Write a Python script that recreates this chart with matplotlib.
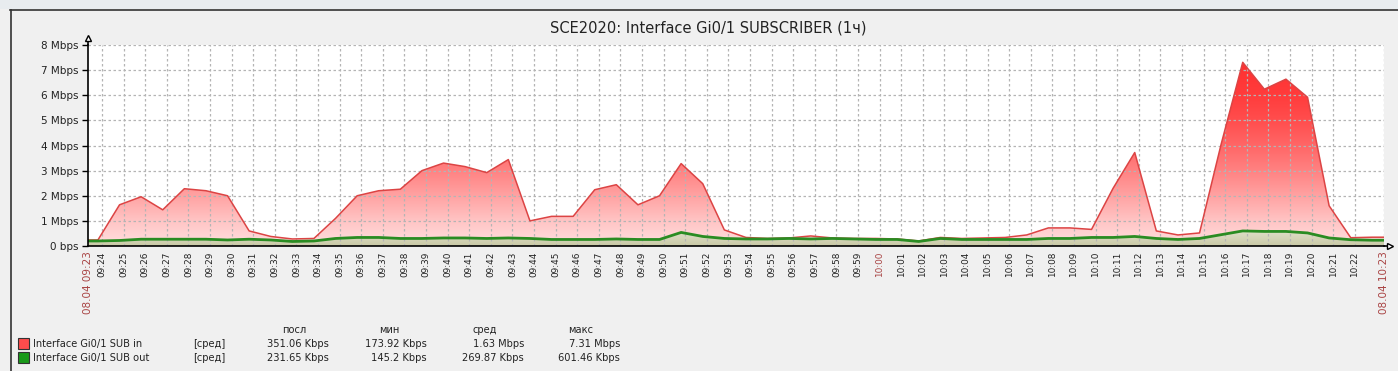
import numpy as np
import matplotlib
matplotlib.use("Agg")
import matplotlib.pyplot as plt
from matplotlib.colors import LinearSegmentedColormap
from matplotlib.patches import Polygon, Rectangle
from matplotlib.lines import Line2D

W, H = 1398, 371

# one sample per minute, first at 09:23:49, window 09:23:21 .. 10:23:21
start_label = "08.04 09:23"
end_label = "08.04 10:23"
first_sample = 0.46      # minutes after window start
window = 60

# Mbps
sub_in = [0.24, 1.64, 1.96, 1.44, 2.28, 2.2, 2.0, 0.6, 0.38, 0.28,
          0.3, 1.1, 2.0, 2.2, 2.26, 3.0, 3.3, 3.16, 2.92, 3.44,
          1.0, 1.18, 1.18, 2.24, 2.44, 1.64, 2.0, 3.28, 2.48, 0.64,
          0.34, 0.3, 0.32, 0.4, 0.32, 0.3, 0.3, 0.28, 0.2, 0.34,
          0.3, 0.32, 0.34, 0.44, 0.72, 0.72, 0.66, 2.3, 3.72, 0.6,
          0.44, 0.52, 4.05, 7.31, 6.24, 6.64, 5.92, 1.6, 0.33, 0.35]
sub_out = [0.2, 0.22, 0.27, 0.27, 0.27, 0.27, 0.24, 0.27, 0.24, 0.18,
           0.2, 0.3, 0.34, 0.34, 0.3, 0.3, 0.32, 0.32, 0.3, 0.32,
           0.3, 0.26, 0.26, 0.26, 0.28, 0.26, 0.26, 0.54, 0.38, 0.3,
           0.28, 0.28, 0.3, 0.28, 0.3, 0.28, 0.26, 0.26, 0.18, 0.3,
           0.26, 0.26, 0.26, 0.26, 0.3, 0.3, 0.34, 0.34, 0.38, 0.3,
           0.26, 0.3, 0.45, 0.6, 0.58, 0.58, 0.52, 0.32, 0.25, 0.23]

minute_labels = ["09:%02d" % m for m in range(24, 60)] + ["10:%02d" % m for m in range(0, 23)]
first_minute = 0.65      # 09:24 after window start

y_labels = ["0 bps"] + ["%d Mbps" % i for i in range(1, 9)]

legend_names = ["Interface Gi0/1 SUB in", "Interface Gi0/1 SUB out"]
legend_cols = ["посл", "мин", "сред", "макс"]
legend_vals = [["351.06 Kbps", "173.92 Kbps", "1.63 Mbps", "7.31 Mbps"],
               ["231.65 Kbps", "145.2 Kbps", "269.87 Kbps", "601.46 Kbps"]]

title = "SCE2020: Interface Gi0/1 SUBSCRIBER (1ч)"

RED_TXT = "#a94444"
GRID = "#b4b4b4"

fig = plt.figure(figsize=(W / 100, H / 100), dpi=100, facecolor="#f0f0f0")

# frame around the graph
fig.patches.append(Rectangle((0, (H - 9) / H), 1, 9 / H, transform=fig.transFigure,
                             facecolor="#e8ecef", edgecolor="none"))
fig.lines.append(Line2D([10 / W, 1], [(H - 9.5) / H] * 2, transform=fig.transFigure,
                        color="#333333", lw=1.2))
fig.lines.append(Line2D([10.5 / W] * 2, [0, (H - 9.5) / H], transform=fig.transFigure,
                        color="#333333", lw=1.2))

ax = fig.add_axes([88 / W, (H - 246) / H, (1384 - 88) / W, (246 - 45) / H])
ax.set_facecolor("white")

t = first_sample + np.arange(len(sub_in))
tx = np.concatenate([[0], t, [window]])
yin = np.concatenate([[sub_in[0]], sub_in, [sub_in[-1]]])
yout = np.concatenate([[sub_out[0]], sub_out, [sub_out[-1]]])

# gradient fills
red_cmap = LinearSegmentedColormap.from_list(
    "r", ["#ffe0e0", "#ffc4c4", "#ffa2a2", "#ff8282", "#ff6666",
          "#ff4e4e", "#ff3c3c", "#ff3333", "#ff3030"])
grad = np.linspace(0, 1, 256).reshape(-1, 1)
poly_in = Polygon(np.column_stack([np.r_[tx, tx[-1], tx[0]], np.r_[yin, 0, 0]]),
                  closed=True, facecolor="none", edgecolor="none")
ax.add_patch(poly_in)
im = ax.imshow(grad, cmap=red_cmap, origin="lower", aspect="auto",
               extent=[0, window, 0, 8], zorder=1)
im.set_clip_path(poly_in)

green_cmap = LinearSegmentedColormap.from_list("g", ["#c9c9a6", "#e2e2cc"])
poly_out = Polygon(np.column_stack([np.r_[tx, tx[-1], tx[0]], np.r_[yout, 0, 0]]),
                   closed=True, facecolor="none", edgecolor="none")
ax.add_patch(poly_out)
im2 = ax.imshow(grad, cmap=green_cmap, origin="lower", aspect="auto",
                extent=[0, window, 0, 0.65], zorder=2)
im2.set_clip_path(poly_out)
ax.set_xlim(0, window)
ax.set_ylim(0, 8)

ax.plot(tx, yin, color="#dc4444", lw=1.1, zorder=4)
ax.plot(tx, yout, color="#2a8c22", lw=2.0, zorder=5)

# grid
minute_pos = first_minute + np.arange(len(minute_labels))
for x in minute_pos:
    ax.axvline(x, color=GRID, lw=0.9, ls=(0, (2, 2)), zorder=3)
ax.axvline(window, color=GRID, lw=0.9, ls=(0, (2, 2)), zorder=3)
for yv in range(1, 9):
    ax.axhline(yv, color=GRID, lw=0.9, ls=(0, (2, 2)), zorder=3)

for s in ["top", "right"]:
    ax.spines[s].set_visible(False)
for s in ["left", "bottom"]:
    ax.spines[s].set_color("black")
    ax.spines[s].set_linewidth(1.2)
    ax.spines[s].set_zorder(6)

ax.set_yticks(range(9))
ax.set_yticklabels(y_labels, fontsize=7.5, color="#222222")
ax.tick_params(axis="y", length=4, width=1, pad=3)

xt = [0] + list(minute_pos) + [window]
xl = [start_label] + minute_labels + [end_label]
ax.set_xticks(xt)
ax.set_xticklabels(xl, rotation=90, fontsize=6.4, va="top", ha="center")
ax.tick_params(axis="x", length=0, pad=4)
for lab in ax.get_xticklabels():
    txt = lab.get_text()
    if txt.startswith("08.04"):
        lab.set_color(RED_TXT)
        lab.set_fontsize(7.5)
    elif txt == "10:00":
        lab.set_color(RED_TXT)
    else:
        lab.set_color("#222222")

# axis arrows
ax.plot([0], [8.28], marker="^", ms=5, mfc="white", mec="black", mew=1,
        clip_on=False, zorder=7)
ax.add_line(Line2D([0, 0], [8, 8.2], color="black", lw=1.2, clip_on=False))
ax.add_line(Line2D([window, window + 0.15], [0, 0], color="black", lw=1.2, clip_on=False))
ax.plot([window + 0.3], [0], marker=">", ms=5, mfc="white", mec="black", mew=1,
        clip_on=False, zorder=7)

fig.text(708 / W, 1 - 28 / H, title, ha="center", va="center", fontsize=10.5, color="#222222")

# legend
swatch = ["#ff4c4c", "#1a9a1a"]
col_right = [329, 427, 524, 620]
head_center = [294, 389, 485, 581]
for cx, name in zip(head_center, legend_cols):
    fig.text(cx / W, 1 - 330 / H, name, ha="center", va="center", fontsize=7.1, color="#222222")
for i, ry in enumerate([344, 358]):
    fig.patches.append(Rectangle((18 / W, 1 - (ry + 5) / H), 11 / W, 11 / H,
                                 transform=fig.transFigure, facecolor=swatch[i],
                                 edgecolor="#333333", lw=0.8))
    fig.text(33 / W, 1 - ry / H, legend_names[i], ha="left", va="center", fontsize=7.1, color="#222222")
    fig.text(193 / W, 1 - ry / H, "[сред]", ha="left", va="center", fontsize=7.1, color="#222222")
    for rx, v in zip(col_right, legend_vals[i]):
        fig.text(rx / W, 1 - ry / H, v, ha="right", va="center", fontsize=7.1, color="#222222")

fig.savefig("out.png", dpi=100, facecolor=fig.get_facecolor())
